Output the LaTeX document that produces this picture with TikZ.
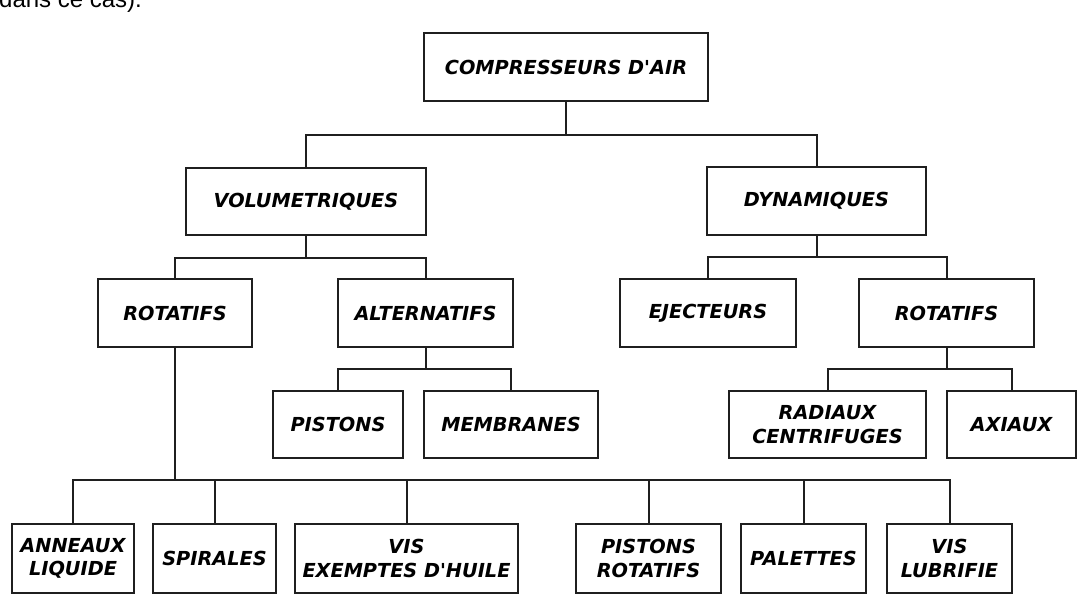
\documentclass[tikz,border=0pt]{standalone}
\usepackage{fontspec}
\setmainfont{DejaVu Sans}
\newfontfamily\captionfont{Liberation Sans}
\begin{document}
\begin{tikzpicture}[x=1pt,y=-1pt,
  box/.style={draw=black!88, line width=2pt, inner sep=0pt, align=center,
    font=\fontsize{19.3}{23.5}\selectfont\bfseries\itshape},
  link/.style={draw=black!88, line width=2pt}]
\useasboundingbox (0,0) rectangle (1088,602);
\fill[white] (0,0) rectangle (1088,602);
\node[anchor=base west, inner sep=0pt, font=\captionfont\fontsize{24}{28}\selectfont] (cap) at (-1,8) {dans ce cas).};
% level 0
\node[box, minimum width=284pt, minimum height=68pt] (comp) at (566,67) {COMPRESSEURS D\textquotesingle AIR};
% level 1
\node[box, minimum width=240pt, minimum height=67pt] (vol) at (306,201.5) {VOLUMETRIQUES};
\node[box, minimum width=219pt, minimum height=68pt] (dyn) at (816.5,201) {DYNAMIQUES};
% level 2
\node[box, minimum width=154pt, minimum height=68pt] (rotL) at (175,313) {ROTATIFS};
\node[box, minimum width=175pt, minimum height=68pt] (alt) at (425.5,313) {ALTERNATIFS};
\node[box, minimum width=176pt, minimum height=68pt] (ejec) at (708,313) {EJECTEURS};
\node[box, minimum width=175pt, minimum height=68pt] (rotR) at (946.5,313) {ROTATIFS};
% level 3
\node[box, minimum width=130pt, minimum height=67pt] (pist) at (338,424.5) {PISTONS};
\node[box, minimum width=174pt, minimum height=67pt] (memb) at (511,424.5) {MEMBRANES};
\node[box, minimum width=197pt, minimum height=67pt] (rad) at (827.5,424.5) {RADIAUX\\CENTRIFUGES};
\node[box, minimum width=129pt, minimum height=67pt] (axi) at (1011.5,424.5) {AXIAUX};
% bottom level
\node[box, minimum width=122pt, minimum height=69pt] (ann) at (73,558.5) {ANNEAUX\\LIQUIDE};
\node[box, minimum width=123pt, minimum height=69pt] (spi) at (214.5,558.5) {SPIRALES};
\node[box, minimum width=223pt, minimum height=69pt] (vis) at (406.5,558.5) {VIS\\EXEMPTES D\textquotesingle HUILE};
\node[box, minimum width=145pt, minimum height=69pt] (prot) at (648.5,558.5) {PISTONS\\ROTATIFS};
\node[box, minimum width=125pt, minimum height=69pt] (pal) at (803.5,558.5) {PALETTES};
\node[box, minimum width=125pt, minimum height=69pt] (vlub) at (949.5,558.5) {VIS\\LUBRIFIE};
% bus points
\coordinate (b1) at (566,135);
\coordinate (b2) at (306,258);
\coordinate (b3) at (816.5,257);
\coordinate (b4) at (425.5,369);
\coordinate (b5) at (946.5,369);
\coordinate (b6) at (175,480);
% connectors
\draw[link] (comp.south) -- (b1);
\draw[link] (vol.north) |- (b1) -| (dyn.north);
\draw[link] (vol.south) -- (b2);
\draw[link] (rotL.north) |- (b2) -| (alt.north);
\draw[link] (dyn.south) -- (b3);
\draw[link] (ejec.north) |- (b3) -| (rotR.north);
\draw[link] (alt.south) -- (b4);
\draw[link] (pist.north) |- (b4) -| (memb.north);
\draw[link] (rotR.south) -- (b5);
\draw[link] (rad.north) |- (b5) -| (axi.north);
\draw[link] (rotL.south) -- (b6);
\draw[link] (ann.north) |- (b6) -| (vlub.north);
\draw[link] (spi.north) -- (spi.north |- b6);
\draw[link] (vis.north) -- (vis.north |- b6);
\draw[link] (prot.north) -- (prot.north |- b6);
\draw[link] (pal.north) -- (pal.north |- b6);
\end{tikzpicture}
\end{document}
